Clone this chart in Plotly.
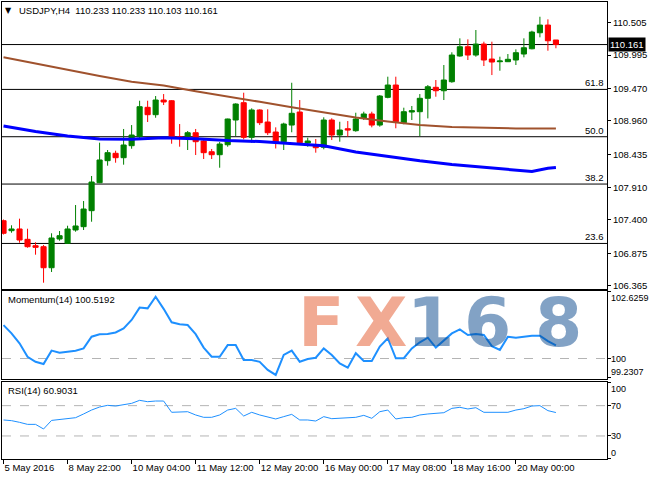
import plotly.graph_objects as go

# ---------------- data ----------------
bars = list(range(70))
opens = [107.388, 107.231, 107.258, 107.095, 106.995, 106.979, 106.648, 107.100, 107.032, 107.242,
         107.294, 107.546, 107.986, 108.333, 108.449, 108.380, 108.569, 108.710, 109.173, 109.057,
         109.288, 109.277, 108.713, 108.721, 108.773, 108.643, 108.474, 108.427, 108.584, 108.973,
         109.246, 108.701, 109.131, 108.942, 108.784, 108.632, 108.894, 109.099, 108.611, 108.575,
         108.544, 108.973, 108.737, 108.836, 108.805, 108.999, 109.068, 108.894, 109.330, 109.524,
         108.931, 109.099, 109.104, 109.315, 109.488, 109.434, 109.576, 109.981, 110.127, 109.996,
         110.169, 109.933, 109.891, 109.891, 109.918, 110.012, 110.095, 110.347, 110.468, 110.233]
highs = [107.407, 107.316, 107.420, 107.262, 107.048, 107.006, 107.190, 107.226, 107.309, 107.635,
         107.698, 108.092, 108.616, 108.501, 108.490, 108.832, 108.894, 109.277, 109.277, 109.351,
         109.382, 109.288, 108.910, 108.800, 108.832, 108.685, 108.517, 108.627, 108.995, 109.236,
         109.403, 109.157, 109.142, 109.142, 108.858, 108.931, 109.560, 109.288, 108.695, 108.674,
         109.016, 109.000, 108.946, 108.957, 109.088, 109.104, 109.104, 109.367, 109.655, 109.655,
         109.167, 109.194, 109.382, 109.524, 109.603, 109.839, 110.039, 110.259, 110.243, 110.390,
         110.206, 110.206, 109.970, 110.012, 110.086, 110.259, 110.379, 110.599, 110.558, 110.233]
lows = [107.171, 107.199, 107.042, 106.963, 106.853, 106.412, 106.581, 107.073, 107.025, 107.215,
        107.242, 107.372, 107.980, 108.254, 108.301, 108.270, 108.521, 108.674, 108.942, 109.009,
        109.209, 108.600, 108.553, 108.501, 108.422, 108.359, 108.359, 108.222, 108.553, 108.721,
        108.669, 108.616, 108.894, 108.737, 108.525, 108.501, 108.780, 108.606, 108.553, 108.459,
        108.512, 108.658, 108.632, 108.710, 108.789, 108.973, 108.858, 108.868, 109.315, 108.843,
        108.906, 108.973, 108.721, 108.999, 109.340, 109.288, 109.560, 109.970, 109.918, 109.970,
        109.823, 109.681, 109.749, 109.886, 109.839, 109.960, 110.086, 110.275, 110.064, 110.103]
closes = [107.190, 107.258, 107.084, 106.979, 106.969, 106.648, 107.116, 107.152, 107.258, 107.305,
          107.572, 107.997, 108.344, 108.459, 108.380, 108.580, 108.737, 109.183, 109.057, 109.288,
          109.257, 108.710, 108.698, 108.773, 108.632, 108.459, 108.427, 108.595, 108.989, 109.225,
          108.701, 109.131, 108.931, 108.773, 108.627, 108.910, 109.079, 108.616, 108.643, 108.537,
          108.973, 108.737, 108.816, 108.816, 108.989, 109.068, 108.894, 109.351, 109.524, 108.946,
          109.104, 109.120, 109.315, 109.497, 109.434, 109.603, 109.996, 110.127, 109.996, 110.169,
          109.918, 109.886, 109.902, 109.929, 110.033, 110.111, 110.358, 110.468, 110.221, 110.161]

ma_slow_bars = [0, 4, 8, 12, 16, 20, 24, 28, 32, 36, 40, 44, 48, 52, 56, 60, 64, 69]
ma_slow = [109.962, 109.861, 109.757, 109.666, 109.574, 109.515, 109.425, 109.348, 109.260,
           109.175, 109.091, 109.014, 108.950, 108.894, 108.863, 108.847, 108.841, 108.839]
ma_fast_bars = [0, 4, 8, 12, 16, 20, 24, 28, 32, 36, 40, 44, 48, 52, 56, 60, 64, 66, 68, 69]
ma_fast = [108.879, 108.792, 108.721, 108.674, 108.669, 108.693, 108.679, 108.651, 108.635, 108.603,
           108.569, 108.470, 108.399, 108.331, 108.273, 108.226, 108.178, 108.163, 108.213, 108.226]

momentum = [101.32, 100.99, 100.60, 100.07, 99.87, 99.78, 100.31, 100.23, 100.27, 100.31,
            100.40, 100.86, 100.96, 100.97, 101.03, 101.19, 101.52, 102.01, 101.98, 102.44,
            101.96, 101.43, 101.35, 101.32, 100.96, 100.43, 100.07, 100.07, 100.53, 100.53,
            99.94, 99.94, 99.87, 99.55, 99.35, 100.14, 100.31, 99.87, 99.98, 100.03,
            100.40, 100.14, 99.81, 99.64, 100.21, 99.90, 99.90, 100.47, 100.80, 100.01,
            100.01, 100.40, 100.64, 100.82, 100.43, 100.73, 100.99, 101.15, 100.93, 100.97,
            100.93, 100.49, 100.34, 100.86, 100.82, 100.86, 100.90, 100.90, 100.69, 100.5192]
rsi = [51.1, 50.2, 48.0, 45.3, 45.3, 39.2, 50.5, 51.9, 52.4, 54.1,
       59.0, 64.2, 68.2, 70.4, 69.5, 71.7, 73.0, 77.0, 75.2, 76.1,
       76.1, 61.2, 61.2, 62.0, 57.7, 54.6, 54.6, 57.7, 64.2, 66.4,
       56.3, 61.2, 57.7, 55.5, 52.4, 55.5, 58.5, 51.1, 51.1, 49.7,
       55.5, 52.8, 53.3, 53.3, 54.6, 57.2, 53.3, 62.0, 64.2, 52.4,
       54.1, 54.6, 57.7, 59.0, 59.9, 60.7, 66.4, 67.8, 65.6, 67.3,
       61.2, 61.2, 61.2, 61.2, 64.2, 66.0, 69.5, 70.0, 63.4, 60.9031]

price_ticks = [110.505, 109.995, 109.470, 108.960, 108.435, 107.910, 107.400, 106.875, 106.365]
fib_levels = [109.455, 108.710, 107.965, 107.030]
fib_labels = ["61.8", "50.0", "38.2", "23.6"]
bid_price = 110.161
time_tick_bars = [0, 8, 16, 24, 32, 40, 48, 56, 64]
time_tick_labels = ["5 May 2016", "8 May 22:00", "10 May 04:00", "11 May 12:00", "12 May 20:00",
                    "16 May 00:00", "17 May 08:00", "18 May 16:00", "20 May 00:00"]
mom_levels = [102.6259, 100, 99.2307]
mom_labels = ["102.6259", "100", "99.2307"]
rsi_levels = [100, 70, 30, 0]
rsi_labels = ["100", "70", "30", "0"]
title_text = "USDJPY,H4  110.233 110.233 110.103 110.161"
mom_title = "Momentum(14) 100.5192"
rsi_title = "RSI(14) 60.9031"
watermark_chars = ["F", "X", "1", "6", "8"]

# ---------------- figure ----------------
FONT = "Liberation Sans, Arial, sans-serif"
W, H = 650, 480
ML, MR, MT, MB = 2, 43, 2, 21
PW, PH = W - ML - MR, H - MT - MB


def px_x(px):
    return (px - ML) / PW


def px_y(py):
    return (H - MB - py) / PH


fig = go.Figure()

fig.add_trace(go.Candlestick(
    x=bars, open=opens, high=highs, low=lows, close=closes,
    increasing=dict(line=dict(color="#008000", width=1), fillcolor="#008000"),
    decreasing=dict(line=dict(color="#FF0000", width=1), fillcolor="#FF0000"),
    xaxis="x", yaxis="y", hoverinfo="skip", showlegend=False))

fig.add_trace(go.Scatter(x=ma_slow_bars, y=ma_slow, mode="lines",
                         line=dict(color="#A0522D", width=2), xaxis="x", yaxis="y",
                         showlegend=False, hoverinfo="skip"))
fig.add_trace(go.Scatter(x=ma_fast_bars, y=ma_fast, mode="lines",
                         line=dict(color="#0000FF", width=3), xaxis="x", yaxis="y",
                         showlegend=False, hoverinfo="skip"))

fig.add_trace(go.Scatter(x=bars, y=momentum, mode="lines",
                         line=dict(color="#1E90FF", width=2), xaxis="x2", yaxis="y2",
                         showlegend=False, hoverinfo="skip"))
fig.add_trace(go.Scatter(x=bars, y=rsi, mode="lines",
                         line=dict(color="#1E90FF", width=1), xaxis="x3", yaxis="y3",
                         showlegend=False, hoverinfo="skip"))

shapes = []
for lv in fib_levels + [bid_price]:
    shapes.append(dict(type="line", xref="x domain", yref="y", x0=0, x1=1, y0=lv, y1=lv,
                       line=dict(color="black", width=1), layer="below"))
shapes.append(dict(type="line", xref="x2 domain", yref="y2", x0=0, x1=1, y0=100, y1=100,
                   line=dict(color="#B4B4B4", width=1, dash="dash"), layer="below"))
for lv in [70, 30]:
    shapes.append(dict(type="line", xref="x3 domain", yref="y3", x0=0, x1=1, y0=lv, y1=lv,
                       line=dict(color="#B4B4B4", width=1, dash="dash"), layer="below"))

ann = []
ann.append(dict(text="▼", x=px_x(8.5), y=px_y(10.5), xref="paper", yref="paper",
                xanchor="center", yanchor="middle", showarrow=False,
                font=dict(family="DejaVu Sans", size=8, color="black")))
ann.append(dict(text=title_text, x=px_x(17), y=px_y(10.5), xref="paper", yref="paper",
                xanchor="left", yanchor="middle", showarrow=False,
                font=dict(family=FONT, size=9.5, color="black")))
for lv, lb in zip(fib_levels, fib_labels):
    ann.append(dict(text=lb, x=px_x(605), y=lv, xref="paper", yref="y",
                    xanchor="right", yanchor="bottom", showarrow=False, borderpad=0,
                    font=dict(family=FONT, size=9.5, color="black")))
ann.append(dict(text=str(bid_price), x=px_x(608), y=bid_price, xref="paper", yref="y",
                xanchor="left", yanchor="middle", showarrow=False, bgcolor="black",
                borderpad=1, font=dict(family=FONT, size=9.5, color="white")))
ann.append(dict(text=mom_title, x=px_x(6), y=px_y(300), xref="paper", yref="paper",
                xanchor="left", yanchor="middle", showarrow=False,
                font=dict(family=FONT, size=9.5, color="black")))
ann.append(dict(text=rsi_title, x=px_x(6), y=px_y(390.5), xref="paper", yref="paper",
                xanchor="left", yanchor="middle", showarrow=False,
                font=dict(family=FONT, size=9.5, color="black")))
for i, (lv, lb) in enumerate(zip(mom_levels, mom_labels)):
    ya = "top" if i == 0 else ("bottom" if i == len(mom_levels) - 1 else "middle")
    ann.append(dict(text=lb, x=px_x(610), y=lv, xref="paper", yref="y2",
                    xanchor="left", yanchor=ya, showarrow=False, borderpad=0,
                    font=dict(family=FONT, size=9, color="black")))
for i, (lv, lb) in enumerate(zip(rsi_levels, rsi_labels)):
    ya = "top" if i == 0 else ("bottom" if i == len(rsi_levels) - 1 else "middle")
    ann.append(dict(text=lb, x=px_x(610), y=lv, xref="paper", yref="y3",
                    xanchor="left", yanchor=ya, showarrow=False, borderpad=0,
                    font=dict(family=FONT, size=9, color="black")))

# watermark (semi-transparent, drawn above the chart)
wm_pos = [321, 381, 430, 487, 558]
wm_col = ["rgba(228,85,40,0.5)", "rgba(228,85,40,0.5)", "rgba(5,70,140,0.5)",
          "rgba(5,70,140,0.5)", "rgba(5,70,140,0.5)"]
for ch, cx, col in zip(watermark_chars, wm_pos, wm_col):
    ann.append(dict(text="<b>%s</b>" % ch, x=px_x(cx), y=px_y(322), xref="paper", yref="paper",
                    xanchor="center", yanchor="middle", showarrow=False,
                    font=dict(family="DejaVu Sans", size=68, color=col)))

axis_common = dict(showline=True, mirror=True, linecolor="black", linewidth=1,
                   showgrid=False, zeroline=False)
xr = [-0.19, 75.38]

fig.update_layout(
    width=W, height=H, margin=dict(l=ML, r=MR, t=MT, b=MB),
    paper_bgcolor="white", plot_bgcolor="white", showlegend=False,
    boxgap=0.2, boxgroupgap=0.2,
    xaxis=dict(domain=[0, 1], anchor="y", range=xr, showticklabels=False, ticks="",
               rangeslider=dict(visible=False), **axis_common),
    xaxis2=dict(domain=[0, 1], anchor="y2", range=xr, matches="x", showticklabels=False,
                ticks="", **axis_common),
    xaxis3=dict(domain=[0, 1], anchor="y3", range=xr, matches="x", tickmode="array",
                tickvals=time_tick_bars, ticktext=time_tick_labels, ticks="outside",
                ticklen=4, tickcolor="black", ticklabelposition="outside right",
                tickangle=0,
                tickfont=dict(family=FONT, size=9.5, color="black"), **axis_common),
    yaxis=dict(domain=[px_y(289), 1], anchor="x", range=[106.313, 110.831], side="right",
               tickmode="array", tickvals=price_ticks,
               ticktext=["%.3f" % v for v in price_ticks], ticks="outside", ticklen=3,
               tickcolor="black", tickfont=dict(family=FONT, size=9.5, color="black"),
               **axis_common),
    yaxis2=dict(domain=[px_y(379), px_y(291)], anchor="x2", range=[99.191, 102.665],
                side="right", tickmode="array", tickvals=mom_levels, showticklabels=False,
                ticks="outside", ticklen=3, tickcolor="black", **axis_common),
    yaxis3=dict(domain=[0, px_y(382)], anchor="x3", range=[-0.4, 101.2], side="right",
                tickmode="array", tickvals=rsi_levels, showticklabels=False,
                ticks="outside", ticklen=3, tickcolor="black", **axis_common),
    shapes=shapes, annotations=ann,
)

fig.write_html("out.html", config={"displayModeBar": False},
               post_script="document.body.style.margin='0px';document.body.style.overflow='hidden';")
